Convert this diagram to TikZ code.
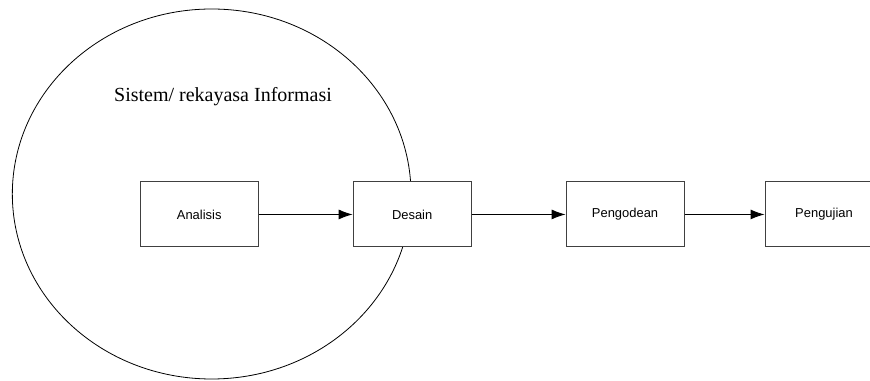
\documentclass[tikz,border=0pt]{standalone}
\usepackage{fontspec}
\setmainfont{Liberation Serif}
\setsansfont{Liberation Sans}
\usetikzlibrary{arrows.meta,positioning,shapes}

\begin{document}
\begin{tikzpicture}[node distance=70.5pt]
	\tikzstyle{tahap}
	  =[draw=black!75, fill=white, line width=0.7pt, rectangle, minimum width=88.5pt,
	  minimum height=48.75pt, inner sep=0pt, font=\sffamily\fontsize{9.7}{11}\selectfont]
	\tikzstyle{panah}
	  =[-{Latex[length=10.5pt,width=7.5pt]}, line width=0.7pt]

	\clip (0,0) rectangle (652.5pt,285.75pt);
	\useasboundingbox (0,0) rectangle (652.5pt,285.75pt);

	\node[draw, ellipse, line width=0.6pt, minimum width=299pt,
	  minimum height=277.5pt, inner sep=0pt] (sistem)
	  at (158.75pt,140.25pt) {};
	\node[font=\fontsize{15}{18}\selectfont] (judul)
	  at (167.25pt,213pt) {Sistem/ rekayasa Informasi};

	\node[tahap] (analisis)
	  at (149.4pt,124.9pt) {Analisis};
	\node[tahap] (desain)
	  [right=of analisis] {Desain};
	\node[tahap] (pengodean)
	  [right=of desain] {Pengodean};
	\node[tahap] (pengujian)
	  [right=60pt of pengodean] {Pengujian};

	\draw[panah] (analisis) -- (desain);
	\draw[panah] (desain) -- (pengodean);
	\draw[panah] (pengodean) -- (pengujian);
\end{tikzpicture}
\end{document}
